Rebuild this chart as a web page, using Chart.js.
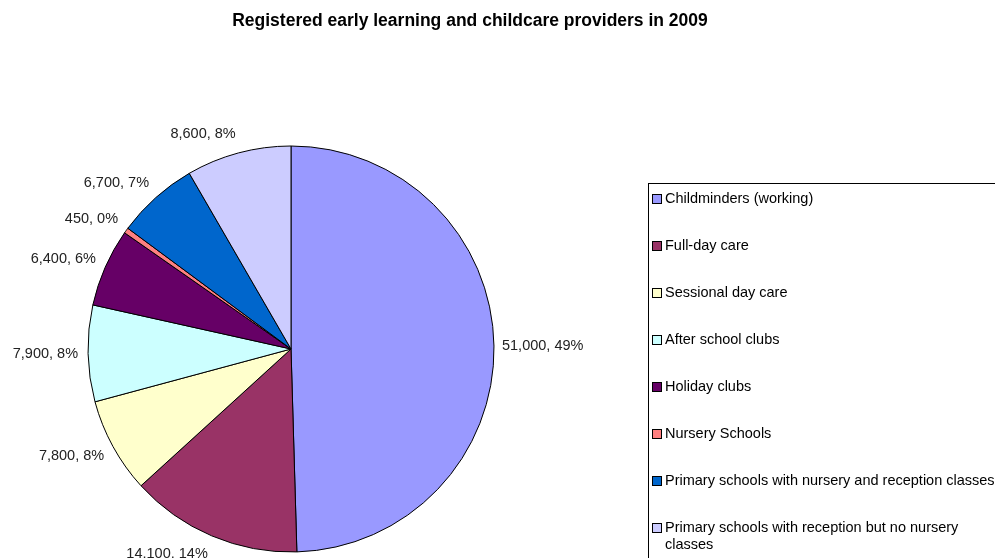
<!DOCTYPE html>
<html>
<head>
<meta charset="utf-8">
<script src="https://cdn.jsdelivr.net/npm/chart.js@4/dist/chart.umd.min.js"></script>
<style>
  body { margin: 0; background: #fff; }
  #wrap { width: 995px; height: 558px; }
</style>
</head>
<body>
<div id="wrap"><canvas id="c" width="995" height="558"></canvas></div>
<script>
const title = 'Registered early learning and childcare providers in 2009';
const categories = [
  'Childminders (working)',
  'Full-day care',
  'Sessional day care',
  'After school clubs',
  'Holiday clubs',
  'Nursery Schools',
  'Primary schools with nursery and reception classes',
  'Primary schools with reception but no nursery classes'
];
const providers = [51000, 14100, 7800, 7900, 6400, 450, 6700, 8600];
const percents = [49, 14, 8, 8, 6, 0, 7, 8];
const colours = ['#9999FF', '#993366', '#FFFFCC', '#CCFFFF', '#660066', '#FF8080', '#0066CC', '#CCCCFF'];

const FONT = 'Arial, "Liberation Sans", sans-serif';

// slice labels + title + legend box, drawn after the pie
const extras = {
  id: 'extras',
  afterDraw(chart) {
    const ctx = chart.ctx;
    ctx.save();

    // title
    ctx.fillStyle = '#000';
    ctx.font = 'bold 17.5px ' + FONT;
    ctx.textAlign = 'center';
    ctx.textBaseline = 'middle';
    ctx.fillText(title, 470, 21);

    // data labels outside each slice
    ctx.font = '14.5px ' + FONT;
    ctx.fillStyle = '#222';
    const meta = chart.getDatasetMeta(0);
    meta.data.forEach((arc, i) => {
      const mid = (arc.startAngle + arc.endAngle) / 2;
      const right = Math.cos(mid) > 0;
      const d = arc.outerRadius + (right ? 8 : 10);
      const px = arc.x + d * Math.cos(mid);
      const py = arc.y + d * Math.sin(mid) + 10 * Math.sin(mid);
      ctx.textAlign = right ? 'left' : 'right';
      ctx.fillText(providers[i].toLocaleString('en-US') + ', ' + percents[i] + '%', px, py);
    });

    // legend
    const bx = 648.5, by = 183.5;
    ctx.strokeStyle = '#000';
    ctx.lineWidth = 1;
    ctx.strokeRect(bx, by, 400, 400);
    ctx.textAlign = 'left';
    categories.forEach((name, i) => {
      const y = 199 + i * 47;
      ctx.fillStyle = colours[i];
      ctx.fillRect(652, y - 5, 10, 10);
      ctx.strokeStyle = '#000';
      ctx.strokeRect(652.5, y - 4.5, 9, 9);
      ctx.fillStyle = '#000';
      // simple word wrap
      const words = name.split(' ');
      let line = '', ly = y;
      words.forEach(w => {
        const test = line ? line + ' ' + w : w;
        if (ctx.measureText(test).width > 337 && line) {
          ctx.fillText(line, 665, ly);
          line = w;
          ly += 17;
        } else {
          line = test;
        }
      });
      ctx.fillText(line, 665, ly);
    });

    ctx.restore();
  }
};

new Chart(document.getElementById('c'), {
  type: 'pie',
  data: {
    labels: categories,
    datasets: [{
      data: providers,
      backgroundColor: colours,
      borderColor: '#000',
      borderWidth: 1,
      radius: 203
    }]
  },
  options: {
    responsive: false,
    animation: false,
    layout: { padding: { left: 91, right: 504, top: 149, bottom: 9 } },
    plugins: {
      legend: { display: false },
      tooltip: { enabled: false }
    }
  },
  plugins: [extras]
});
</script>
</body>
</html>
